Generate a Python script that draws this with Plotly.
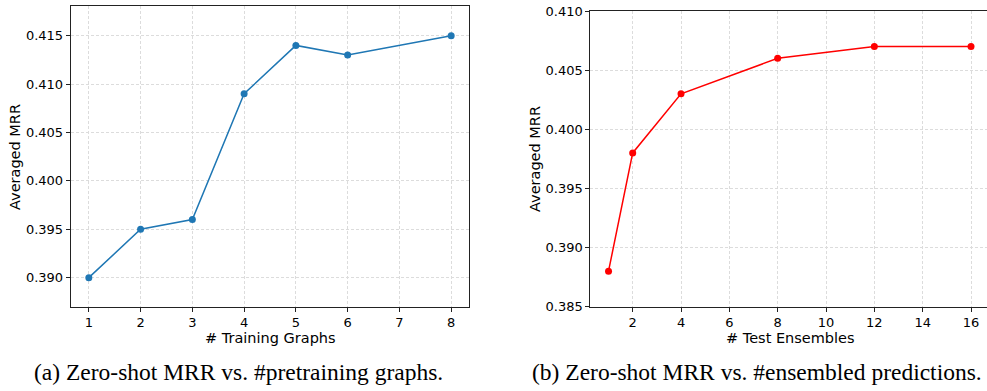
import plotly.graph_objects as go

W, H = 987, 391

# Data
graphs_x = [1, 2, 3, 4, 5, 6, 8]
graphs_mrr = [0.390, 0.395, 0.396, 0.409, 0.414, 0.413, 0.415]
ens_x = [1, 2, 4, 8, 12, 16]
ens_mrr = [0.388, 0.398, 0.403, 0.406, 0.407, 0.407]

left_xticks = [1, 2, 3, 4, 5, 6, 7, 8]
left_yticks = [0.390, 0.395, 0.400, 0.405, 0.410, 0.415]
right_xticks = [2, 4, 6, 8, 10, 12, 14, 16]
right_yticks = [0.385, 0.390, 0.395, 0.400, 0.405, 0.410]

FONT = "DejaVu Sans"
SERIF = "Liberation Serif"

def px_x(p):
    return p / W

def px_y(p):
    return 1 - p / H

fig = go.Figure()
fig.add_trace(go.Scatter(x=graphs_x, y=graphs_mrr, mode="lines+markers",
                         line=dict(color="#1f77b4", width=1.5),
                         marker=dict(color="#1f77b4", size=7),
                         xaxis="x", yaxis="y", showlegend=False))
fig.add_trace(go.Scatter(x=ens_x, y=ens_mrr, mode="lines+markers",
                         line=dict(color="#ff0000", width=1.5),
                         marker=dict(color="#ff0000", size=7),
                         xaxis="x2", yaxis="y2", showlegend=False, cliponaxis=False))

axis_common = dict(showline=True, linecolor="#222222", linewidth=1,
                   ticks="outside", ticklen=4, tickcolor="#222222", tickwidth=1,
                   showgrid=True, gridcolor="#dcdcdc", gridwidth=0.8, griddash="3px,2px",
                   zeroline=False, automargin=False,
                   tickfont=dict(family=FONT, size=13, color="#000000"))

# right x range: extends slightly past the image edge
unit = (971 - 632.7) / 14
right_end = 16 + (987 - 971) / unit

fig.update_layout(
    template="none",
    width=W, height=H, margin=dict(l=0, r=0, t=0, b=0, pad=0, autoexpand=False),
    paper_bgcolor="white", plot_bgcolor="white",
    xaxis=dict(domain=[px_x(70.7), px_x(469.3)], range=[0.65, 8.35],
               tickvals=left_xticks, mirror=True, anchor="y", **axis_common),
    yaxis=dict(domain=[px_y(306.7), px_y(6)], range=[0.387, 0.41807],
               tickvals=left_yticks, tickformat=".3f", mirror=True, anchor="x", **axis_common),
    xaxis2=dict(domain=[px_x(590.4), 1], range=[0.25, right_end],
                tickvals=right_xticks, mirror=True, anchor="y2", **axis_common),
    yaxis2=dict(domain=[px_y(306.7), px_y(11)], range=[0.385, 0.410],
                tickvals=right_yticks, tickformat=".3f", mirror=False, anchor="x2", **axis_common),
)

ann = []
def label(text, x, y, size=14.5, family=FONT, angle=0, color="#000000"):
    ann.append(dict(text=text, x=px_x(x), y=px_y(y), xref="paper", yref="paper",
                    showarrow=False, textangle=angle, xanchor="center", yanchor="middle",
                    font=dict(family=family, size=size, color=color)))

label("# Training Graphs", 270, 338)
label("Averaged MRR", 15, 157, angle=-90)
label("# Test Ensembles", 790, 338)
label("Averaged MRR", 535, 159, angle=-90)
label("(a) Zero-shot MRR vs. #pretraining graphs.", 238.5, 372, size=23.5, family=SERIF)
label("(b) Zero-shot MRR vs. #ensembled predictions.", 756.5, 372, size=23.5, family=SERIF)

fig.update_layout(annotations=ann)
fig.write_html("out.html", config={"displayModeBar": False},
               post_script="document.body.style.margin='0px';document.body.style.overflow='hidden';")
